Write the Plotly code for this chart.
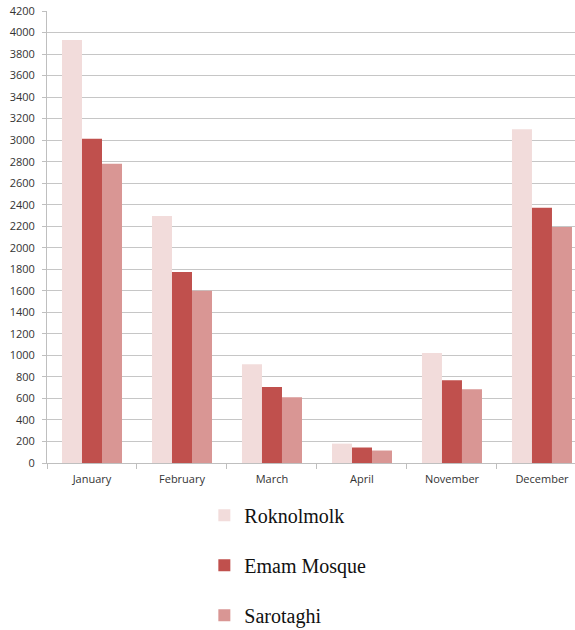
import plotly.graph_objects as go

months = ["January", "February", "March", "April", "November", "December"]
roknolmolk = [3930, 2295, 917, 180, 1022, 3102]
emam_mosque = [3012, 1775, 706, 144, 770, 2372]
sarotaghi = [2781, 1600, 610, 116, 686, 2192]
y_ticks = list(range(0, 4201, 200))

series = [
    ("Roknolmolk", roknolmolk, "#f2dcdb"),
    ("Emam Mosque", emam_mosque, "#c0504d"),
    ("Sarotaghi", sarotaghi, "#d99694"),
]

fig = go.Figure()
for i, (name, vals, color) in enumerate(series):
    fig.add_trace(go.Bar(
        x=months, y=vals, name=name,
        marker=dict(color=color, line=dict(width=0)),
        legendgroup=f"g{i}",
    ))

axis_font = dict(family="Open Sans, Liberation Sans, sans-serif", size=11, color="#333333")

fig.update_layout(
    width=575, height=630,
    margin=dict(l=47, r=0, t=11, b=167, autoexpand=False),
    paper_bgcolor="white", plot_bgcolor="white",
    barmode="group", bargap=0.333, bargroupgap=0,
    showlegend=True,
    legend=dict(
        x=0.298, xanchor="left",
        yref="container", y=0.213, yanchor="top",
        font=dict(family="Liberation Serif, Times New Roman, serif", size=20, color="#111111"),
        tracegroupgap=21, bgcolor="rgba(0,0,0,0)",
    ),
    xaxis=dict(
        type="category", range=[-0.5, 5.367],
        showline=True, linecolor="#bfbfbf", linewidth=1,
        ticks="outside", tickson="boundaries", ticklen=5, tickcolor="#bfbfbf",
        tickfont=axis_font, ticklabelstandoff=6,
        showgrid=False,
    ),
    yaxis=dict(
        range=[0, 4200], tickvals=y_ticks,
        showline=True, linecolor="#bfbfbf", linewidth=1,
        ticks="outside", ticklen=4, tickcolor="#bfbfbf",
        tickfont=axis_font, ticklabelstandoff=5,
        showgrid=True, gridcolor="#c6c6c6", gridwidth=1,
        zeroline=False,
    ),
)

fig.write_html("out.html")
